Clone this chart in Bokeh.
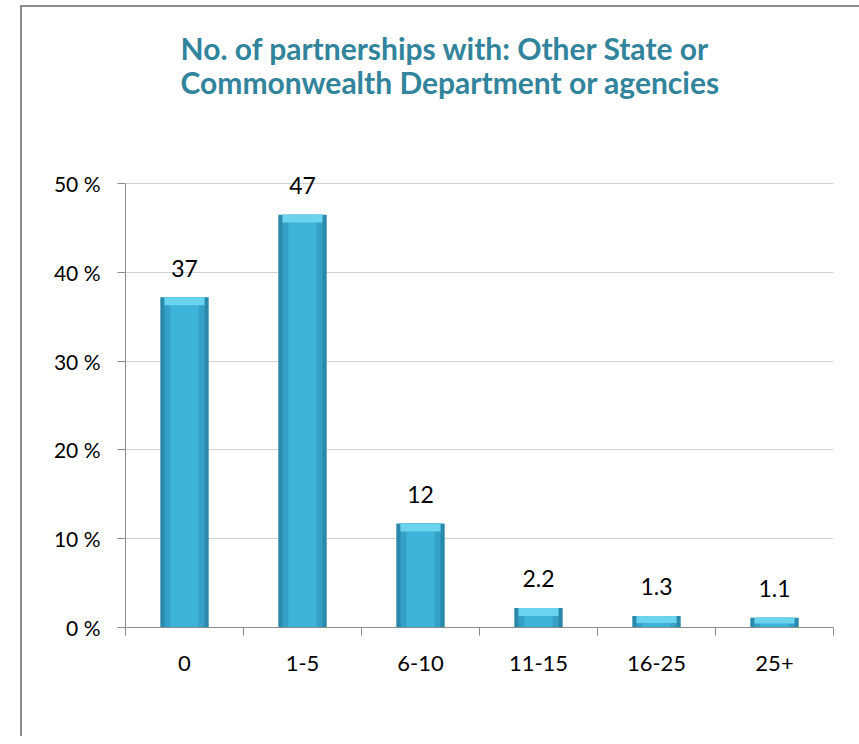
from bokeh.plotting import figure
from bokeh.models import ColumnDataSource, LabelSet, FixedTicker, Range1d
from bokeh.core.properties import value
from bokeh.embed import file_html
from bokeh.resources import INLINE

categories = ["0", "1-5", "6-10", "11-15", "16-25", "25+"]
values = [37.2, 46.5, 11.7, 2.2, 1.3, 1.1]
value_labels = ["37", "47", "12", "2.2", "1.3", "1.1"]
y_ticks = [0, 10, 20, 30, 40, 50]
y_tick_labels = ["0 %", "10 %", "20 %", "30 %", "40 %", "50 %"]

FONT = "Lato"
TEAL = "#31849B"
GREY = "#8C8C8C"

xs = [i + 0.5 for i in range(len(categories))]
cap = [v - min(0.9, v * 0.6) for v in values]
src = ColumnDataSource(dict(x=xs, top=values, cap=cap, label=value_labels))

p = figure(width=875, height=736, output_backend="svg", toolbar_location=None,
           x_range=Range1d(0, len(categories)), y_range=Range1d(0, 56.2),
           min_border_left=125, min_border_top=127, min_border_right=42,
           min_border_bottom=109)

p.title.text = "No. of partnerships with: Other State or\nCommonwealth Department or agencies"
p.title.align = "left"
p.title.offset = 55
p.title.standoff = 56
p.title.text_font = FONT
p.title.text_font_size = "30px"
p.title.text_color = TEAL
p.title.text_font_style = "bold"
p.title.text_line_height = 0.95

p.outline_line_color = None
p.background_fill_color = "white"
p.border_fill_color = None

# bars: layered for a bevelled look
p.vbar(x="x", top="top", bottom=0, width=0.41, source=src,
       fill_color="#2A88AA", line_color=None)
p.vbar(x="x", top="top", bottom=0, width=0.34, source=src,
       fill_color="#34A0C6", line_color=None)
p.vbar(x="x", top="top", bottom=0, width=0.24, source=src,
       fill_color="#3DB3DA", line_color=None)
p.vbar(x="x", top="top", bottom="cap", width=0.34, source=src,
       fill_color="#6AD3EE", line_color=None)

labels = LabelSet(x="x", y="top", text="label", source=src, y_offset=29,
                  text_align="center", text_baseline="middle",
                  text_font=value(FONT), text_font_size="23px",
                  text_color="black")
p.add_layout(labels)

# axes
p.xaxis.ticker = FixedTicker(ticks=xs, minor_ticks=list(range(len(categories) + 1)))
p.xaxis.major_label_overrides = {x: c for x, c in zip(xs, categories)}
p.xaxis.major_tick_line_color = None
p.xaxis.major_tick_out = 0
p.xaxis.major_tick_in = 0
p.xaxis.minor_tick_out = 8
p.xaxis.minor_tick_in = 0
p.xaxis.minor_tick_line_color = GREY
p.xaxis.axis_line_color = GREY
p.xaxis.major_label_standoff = 20
p.xaxis.major_label_text_font = FONT
p.xaxis.major_label_text_font_size = "22px"
p.xaxis.major_label_text_color = "black"

p.yaxis.ticker = FixedTicker(ticks=y_ticks)
p.yaxis.bounds = (0, 50)
p.yaxis.major_label_overrides = {t: l for t, l in zip(y_ticks, y_tick_labels)}
p.yaxis.minor_tick_line_color = None
p.yaxis.major_tick_out = 8
p.yaxis.major_tick_in = 0
p.yaxis.major_tick_line_color = GREY
p.yaxis.axis_line_color = GREY
p.yaxis.major_label_standoff = 17
p.yaxis.major_label_text_font = FONT
p.yaxis.major_label_text_font_size = "21px"
p.yaxis.major_label_text_color = "black"

p.xgrid.grid_line_color = None
p.ygrid.grid_line_color = "#D0D0D0"
p.ygrid.grid_line_width = 1

# outer chart border (left and top edges), drawn behind the transparent canvas border
p.styles = {
    "background-color": "white",
    "background-image": (
        f"linear-gradient(to right, transparent 20px, {GREY} 20px, {GREY} 22px, transparent 22px), "
        f"linear-gradient(to bottom, transparent 5px, {GREY} 5px, {GREY} 7px, transparent 7px)"
    ),
    "background-size": "100% 100%, 100% 100%",
    "background-position": "0px 5px, 20px 0px",
    "background-repeat": "no-repeat, no-repeat",
}

open("out.html", "w").write(file_html(p, INLINE))
